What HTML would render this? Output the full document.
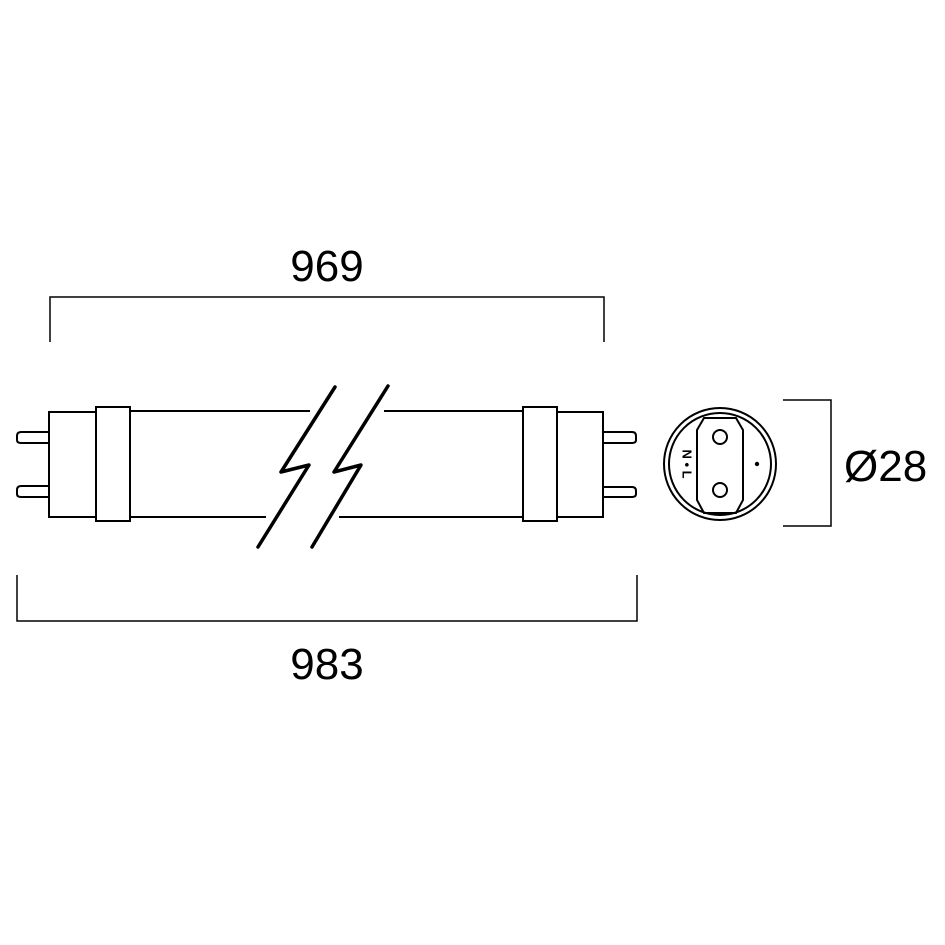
<!DOCTYPE html>
<html><head><style>body{margin:0;background:#fff}svg{display:block}</style></head>
<body>
<svg width="945" height="945" viewBox="0 0 945 945" xmlns="http://www.w3.org/2000/svg">
<g fill="none" stroke="#000" stroke-width="2">
<!-- dimension 969 -->
<polyline points="50,342 50,297 604,297 604,342" stroke-width="1.5"/>
<!-- dimension 983 -->
<polyline points="17,575 17,621 637,621 637,575" stroke-width="1.5"/>
<!-- dimension Ø28 -->
<polyline points="783,400 831,400 831,526 783,526" stroke-width="1.5"/>
<!-- left pins -->
<path d="M48,432 H21 Q17,432 17,436 V440 Q17,443 21,443 H48"/>
<path d="M48,486 H21 Q17,486 17,490 V494 Q17,497 21,497 H48"/>
<rect x="49" y="412" width="47" height="105"/>
<rect x="96" y="407" width="34" height="114"/>
<line x1="130" y1="411" x2="310" y2="411"/>
<line x1="130" y1="517" x2="266" y2="517"/>
<!-- right -->
<line x1="384" y1="411" x2="523" y2="411"/>
<line x1="339" y1="517" x2="523" y2="517"/>
<rect x="523" y="407" width="34" height="114"/>
<rect x="557" y="412" width="46" height="105"/>
<path d="M603,432 H632 Q636,432 636,436 V440 Q636,443 632,443 H603"/>
<path d="M603,487 H632 Q636,487 636,491 V494 Q636,497 632,497 H603"/>
<!-- break lines -->
<polyline points="335,387 281,472 309,465 258,547" stroke-width="3.5" stroke-linejoin="round" stroke-linecap="round"/>
<polyline points="388,386 334,472 361,465 312,547" stroke-width="3.5" stroke-linejoin="round" stroke-linecap="round"/>
<!-- end view -->
<circle cx="720" cy="464" r="56"/>
<circle cx="720" cy="464" r="51"/>
<path d="M704,418 H736 L743,430 V500 L736,513 H704 L697,500 V430 Z"/>
<circle cx="720" cy="437" r="7"/>
<circle cx="720" cy="490" r="7"/>
</g>
<circle cx="757" cy="464" r="2.2" fill="#000"/>
<text x="686" y="464" font-family="Liberation Sans, sans-serif" font-weight="bold" font-size="13" text-anchor="middle" transform="rotate(90 686 464)" dominant-baseline="middle">N • L</text>
<g font-family="Liberation Sans, sans-serif" font-size="44" fill="#000">
<text x="327" y="281" text-anchor="middle">969</text>
<text x="327" y="679" text-anchor="middle">983</text>
<text x="844" y="481">Ø28</text>
</g>
</svg>
</body></html>
